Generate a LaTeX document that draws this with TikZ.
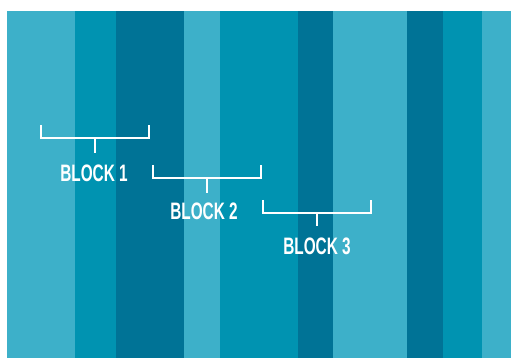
\documentclass[tikz,border=0pt]{standalone}
\usepackage{fontspec}
\setmainfont{Liberation Sans}
\definecolor{lightc}{HTML}{3DB0C9}
\definecolor{midc}{HTML}{0093B1}
\definecolor{darkc}{HTML}{007396}
\tikzset{
  stripe/.style={fill=#1, draw=none},
  bracket/.style={draw=white, line width=2.5pt, line cap=butt, line join=miter},
  blocklabel/.style={text=white, anchor=base, inner sep=0pt, font=\bfseries\fontsize{23.8}{23.8}\selectfont}
}
\newcommand{\cond}[1]{\scalebox{0.645}[1]{#1}}
\begin{document}
\begin{tikzpicture}[x=1pt,y=-1pt]
\useasboundingbox (0,0) rectangle (511,358);
\fill[white] (0,0) rectangle (511,358);
% stripes
\fill[stripe=lightc] (7,11) rectangle (75,358);
\fill[stripe=midc] (75,11) rectangle (116,358);
\fill[stripe=darkc] (116,11) rectangle (184,358);
\fill[stripe=lightc] (184,11) rectangle (220,358);
\fill[stripe=midc] (220,11) rectangle (298,358);
\fill[stripe=darkc] (298,11) rectangle (333,358);
\fill[stripe=lightc] (333,11) rectangle (407,358);
\fill[stripe=darkc] (407,11) rectangle (443,358);
\fill[stripe=midc] (443,11) rectangle (482,358);
\fill[stripe=lightc] (482,11) rectangle (511,358);
% labels
\node[blocklabel] (b1) at (94,182) {\cond{BLOCK 1}};
\node[blocklabel] (b2) at (204,219) {\cond{BLOCK 2}};
\node[blocklabel] (b3) at (317,254) {\cond{BLOCK 3}};
% brackets
\draw[bracket] (41,125) -- (41,138) -- (149,138) -- (149,125);
\draw[bracket] (95,138) -- (95,153);
\draw[bracket] (153,165) -- (153,178) -- (261,178) -- (261,165);
\draw[bracket] (207,178) -- (207,193);
\draw[bracket] (263,200) -- (263,213) -- (371,213) -- (371,200);
\draw[bracket] (317,213) -- (317,226);
\end{tikzpicture}
\end{document}
